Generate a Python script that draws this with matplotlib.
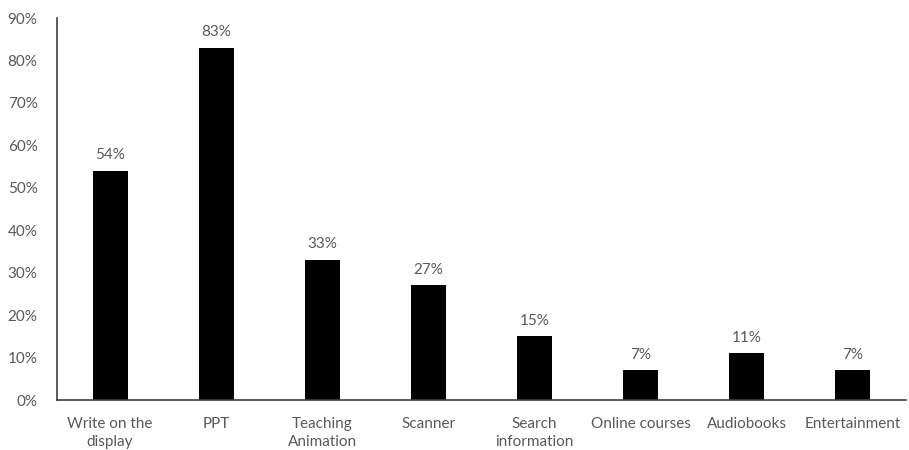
import matplotlib
matplotlib.use("Agg")
import matplotlib.pyplot as plt
from matplotlib.ticker import FuncFormatter

categories = ["Write on the\ndisplay", "PPT", "Teaching\nAnimation", "Scanner",
              "Search\ninformation", "Online courses", "Audiobooks", "Entertainment"]
shares = [54, 83, 33, 27, 15, 7, 11, 7]
y_ticks = [0, 10, 20, 30, 40, 50, 60, 70, 80, 90]

text_gray = "#595959"
plt.rcParams["font.family"] = ["Lato", "DejaVu Sans"]

fig = plt.figure(figsize=(9.09, 4.5), dpi=100)
ax = fig.add_axes([0.0627, 0.111, 0.934, 0.849])

x = range(len(categories))
ax.bar(x, shares, width=0.33, color="black", zorder=2)

for xi, v in zip(x, shares):
    ax.text(xi, v + 2.0, f"{v}%", ha="center", va="bottom",
            fontsize=11, color=text_gray)

ax.set_xlim(-0.5, len(categories) - 0.5)
ax.set_ylim(0, 90)
ax.set_yticks(y_ticks)
ax.yaxis.set_major_formatter(FuncFormatter(lambda v, _: f"{v:.0f}%"))
ax.set_xticks(list(x))
ax.set_xticklabels(categories, fontsize=11, color=text_gray, linespacing=1.35)
ax.tick_params(axis="y", labelsize=11, labelcolor=text_gray, length=0, pad=14)
ax.tick_params(axis="x", length=0, pad=12)

for side in ("top", "right"):
    ax.spines[side].set_visible(False)
ax.spines["left"].set_color("#404040")
ax.spines["bottom"].set_color("#404040")
ax.spines["left"].set_linewidth(1.2)
ax.spines["bottom"].set_linewidth(1.2)

fig.savefig("out.png", dpi=100, facecolor="white")
